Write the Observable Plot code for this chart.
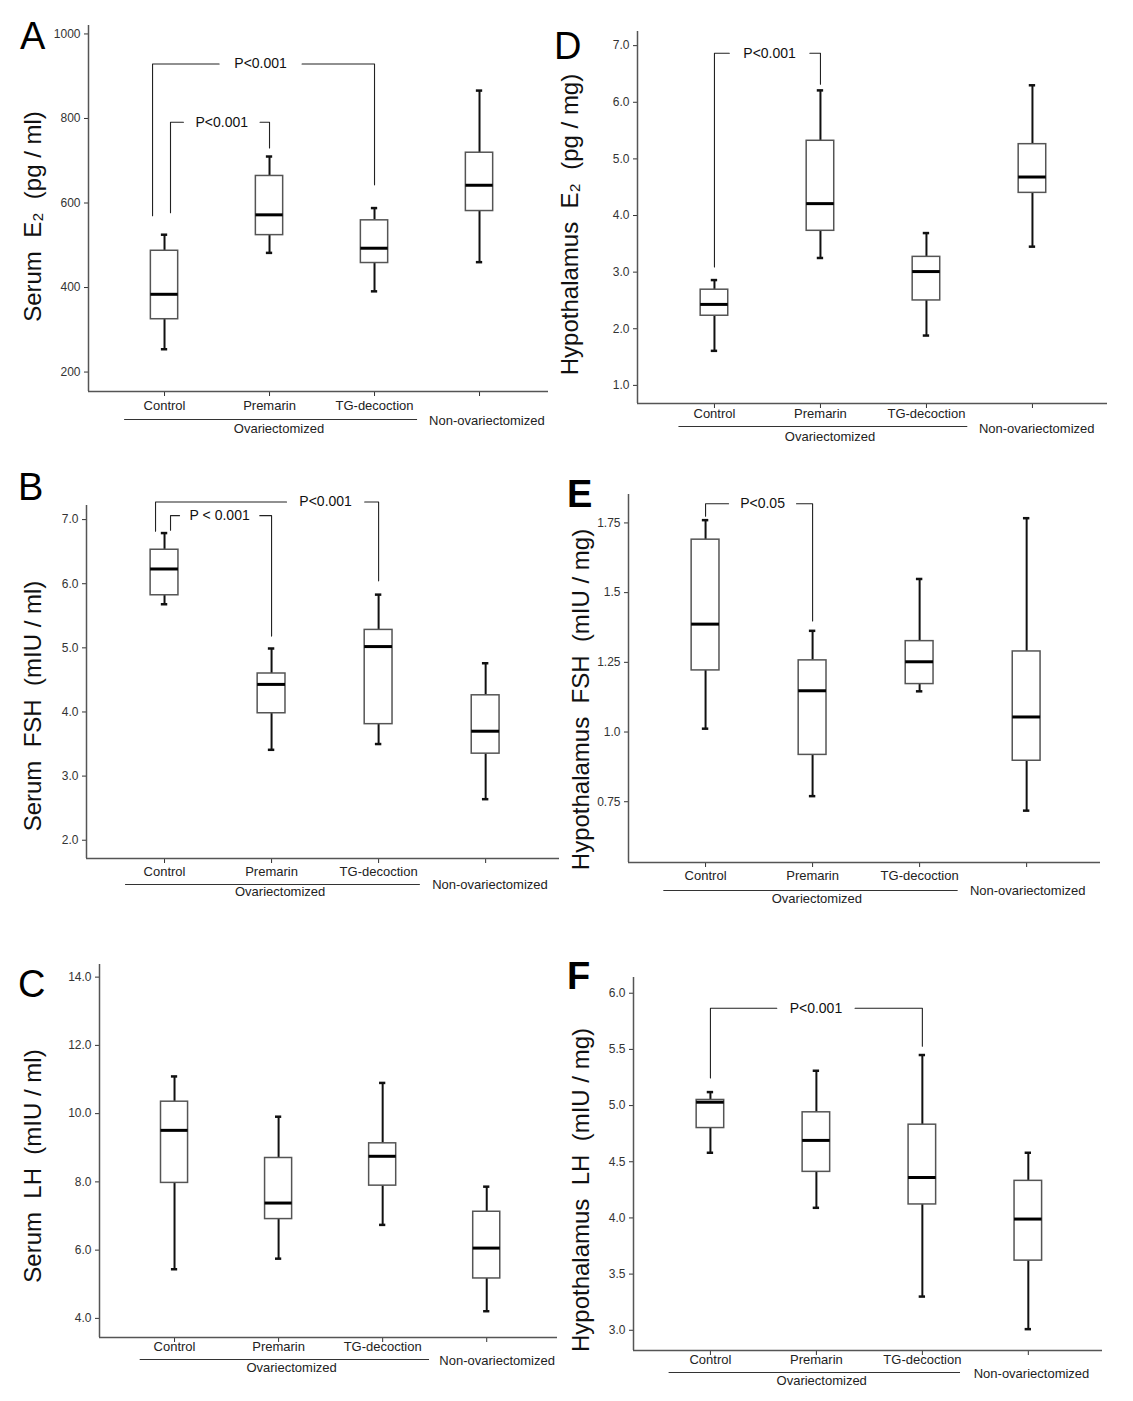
<!DOCTYPE html>
<html><head><meta charset="utf-8">
<script src="https://cdn.jsdelivr.net/npm/d3@7"></script>
<script src="https://cdn.jsdelivr.net/npm/@observablehq/plot@0.6"></script>
<style>
body{margin:0;background:#fff;}
#fig{position:relative;width:1133px;height:1401px;background:#fff;overflow:hidden;font-family:"Liberation Sans",Arial,sans-serif;}
.panel{position:absolute;}
.letter{position:absolute;font-size:38px;line-height:38px;color:#000;font-family:"Liberation Sans",Arial,sans-serif;}
</style></head><body><div id="fig"></div>
<script>
// ---------- DATA ----------
const groups = ["Control", "Premarin", "TG-decoction", "Non-ovariectomized"];
const ovxLabel = "Ovariectomized";

// five-number summaries per group: [min, q1, median, q3, max]
const serumE2 = [[254, 325, 384, 487, 525], [482, 524, 572, 664, 710], [391, 458, 493, 559, 588], [460, 581, 642, 719, 866]];
const serumFSH = [[5.68, 5.82, 6.23, 6.53, 6.79], [3.41, 3.98, 4.43, 4.60, 4.99], [3.50, 3.81, 5.02, 5.28, 5.83], [2.64, 3.35, 3.70, 4.26, 4.76]];
const serumLH = [[5.44, 7.97, 9.51, 10.35, 11.09], [5.75, 6.91, 7.38, 8.70, 9.91], [6.74, 7.89, 8.75, 9.13, 10.90], [4.21, 5.17, 6.06, 7.125, 7.86]];
const hypoE2 = [[1.61, 2.23, 2.43, 2.69, 2.86], [3.25, 3.73, 4.21, 5.32, 6.21], [1.88, 2.50, 3.01, 3.27, 3.69], [3.45, 4.40, 4.68, 5.26, 6.30]];
const hypoFSH = [[1.012, 1.221, 1.387, 1.69, 1.76], [0.77, 0.918, 1.148, 1.257, 1.363], [1.146, 1.172, 1.252, 1.326, 1.549], [0.718, 0.897, 1.054, 1.289, 1.767]];
const hypoLH = [[4.58, 4.80, 5.03, 5.05, 5.12], [4.09, 4.41, 4.69, 4.94, 5.31], [3.30, 4.12, 4.36, 4.83, 5.45], [3.01, 3.62, 3.99, 4.33, 4.58]];

// y tick values and labels
const serumE2Ticks = [200, 400, 600, 800, 1000];
const serumFSHTicks = [2, 3, 4, 5, 6, 7];
const serumLHTicks = [4, 6, 8, 10, 12, 14];
const hypoE2Ticks = [1, 2, 3, 4, 5, 6, 7];
const hypoFSHTicks = [0.75, 1.0, 1.25, 1.5, 1.75];
const hypoFSHTickLabels = ["0.75", "1.0", "1.25", "1.5", "1.75"];
const hypoLHTicks = [3.0, 3.5, 4.0, 4.5, 5.0, 5.5, 6.0];

// significance brackets (x in group index units, y in data units)
const serumE2Brackets = [
  {xL: 0.886, xR: 3, yTop: 929, yL: 570, yR: 643, g1: 1.52, g2: 2.31, label: "P<0.001"},
  {xL: 1.057, xR: 2, yTop: 791, yL: 577, yR: 730, g1: 1.18, g2: 1.91, label: "P<0.001"}
];
const serumFSHBrackets = [
  {xL: 0.916, xR: 3, yTop: 7.275, yL: 6.82, yR: 6.045, g1: 2.14, g2: 2.87, label: "P<0.001"},
  {xL: 1.056, xR: 2, yTop: 7.062, yL: 6.834, yR: 5.183, g1: 1.14, g2: 1.89, label: "P < 0.001"}
];
const serumLHBrackets = [];
const hypoE2Brackets = [
  {xL: 1, xR: 2, yTop: 6.865, yL: 3.09, yR: 6.32, g1: 1.14, g2: 1.90, label: "P<0.001"}
];
const hypoFSHBrackets = [
  {xL: 1, xR: 2, yTop: 1.819, yL: 1.774, yR: 1.398, g1: 1.215, g2: 1.85, label: "P<0.05"}
];
const hypoLHBrackets = [
  {xL: 1, xR: 3, yTop: 5.866, yL: 5.246, yR: 5.528, g1: 1.626, g2: 2.365, label: "P<0.001"}
];

// ---------- LAYOUT ----------
const S = "\u00a0\u00a0";
const panels = [
  {letter: "A", bold: false, lx: 20, ly: 17, title: "Serum" + S + "E\u2082" + S + "(pg / ml)", stats: serumE2, ticks: serumE2Ticks, fmt: d => String(d), brackets: serumE2Brackets,
   left: 0, top: 0, width: 560, height: 450, mL: 88, mR: 12, mT: 25, mB: 59, xd: [0.276, 4.657], yd: [154, 1020],
   tdx: -55, tdy: 8, dCat: 18, dLine: 28, dOvx: 41, dNon: 33, line: [0.62, 3.41], ovxX: 2.09, nonX: 4.07},
  {letter: "B", bold: false, lx: 18, ly: 468, title: "Serum" + S + "FSH" + S + "(mIU / ml)", stats: serumFSH, ticks: serumFSHTicks, fmt: d => d.toFixed(1), brackets: serumFSHBrackets,
   left: 0, top: 455, width: 560, height: 470, mL: 86, mR: 1, mT: 50, mB: 67, xd: [0.271, 4.69], yd: [1.715, 7.22],
   tdx: -53, tdy: 24, dCat: 17, dLine: 26, dOvx: 37, dNon: 30, line: [0.636, 3.39], ovxX: 2.08, nonX: 4.04},
  {letter: "C", bold: false, lx: 18, ly: 965, title: "Serum" + S + "LH" + S + "(mIU / ml)", stats: serumLH, ticks: serumLHTicks, fmt: d => d.toFixed(1), brackets: serumLHBrackets,
   left: 0, top: 940, width: 560, height: 461, mL: 99, mR: 3, mT: 24, mB: 64, xd: [0.279, 4.68], yd: [3.44, 14.37],
   tdx: -66, tdy: 15, dCat: 13, dLine: 22, dOvx: 34, dNon: 27, line: [0.67, 3.45], ovxX: 2.125, nonX: 4.10},
  {letter: "D", bold: false, lx: 554, ly: 27, title: "Hypothalamus" + S + "E\u2082" + S + "(pg / mg)", stats: hypoE2, ticks: hypoE2Ticks, fmt: d => d.toFixed(1), brackets: hypoE2Brackets,
   left: 556, top: 0, width: 577, height: 450, mL: 81, mR: 26, mT: 31, mB: 47, xd: [0.274, 4.708], yd: [0.68, 7.25],
   tdx: -67, tdy: 7, dCat: 14, dLine: 23, dOvx: 37, dNon: 29, line: [0.665, 3.39], ovxX: 2.09, nonX: 4.04},
  {letter: "E", bold: true, lx: 567, ly: 475, title: "Hypothalamus" + S + "FSH" + S + "(mIU / mg)", stats: hypoFSH, ticks: hypoFSHTicks, fmt: d => hypoFSHTickLabels[hypoFSHTicks.indexOf(d)], brackets: hypoFSHBrackets,
   left: 556, top: 455, width: 577, height: 470, mL: 72, mR: 33, mT: 39, mB: 63, xd: [0.28, 4.69], yd: [0.532, 1.852],
   tdx: -47, tdy: 21, dCat: 17, dLine: 28, dOvx: 40, dNon: 32, line: [0.61, 3.36], ovxX: 2.04, nonX: 4.01},
  {letter: "F", bold: true, lx: 567, ly: 957, title: "Hypothalamus" + S + "LH" + S + "(mIU / mg)", stats: hypoLH, ticks: hypoLHTicks, fmt: d => d.toFixed(1), brackets: hypoLHBrackets,
   left: 556, top: 940, width: 577, height: 461, mL: 77, mR: 31, mT: 37, mB: 51, xd: [0.274, 4.70], yd: [2.82, 6.14],
   tdx: -52, tdy: 26, dCat: 13, dLine: 22, dOvx: 34, dNon: 27, line: [0.61, 3.36], ovxX: 2.05, nonX: 4.03}
];

const fig = document.getElementById("fig");
const HW = 0.13, CW = 0.03;

function makePanel(c) {
  const rows = c.stats.map((s, i) => ({pos: i + 1, min: s[0], q1: s[1], med: s[2], q3: s[3], max: s[4]}));
  const pts = [];
  c.brackets.forEach((b, k) => {
    pts.push({x: b.xL, y: b.yL, z: k + "a"}, {x: b.xL, y: b.yTop, z: k + "a"}, {x: b.g1, y: b.yTop, z: k + "a"});
    pts.push({x: b.g2, y: b.yTop, z: k + "b"}, {x: b.xR, y: b.yTop, z: k + "b"}, {x: b.xR, y: b.yR, z: k + "b"});
  });
  const plot = Plot.plot({
    width: c.width, height: c.height,
    marginLeft: c.mL, marginRight: c.mR, marginTop: c.mT, marginBottom: c.mB,
    style: {background: "transparent", overflow: "visible", fontFamily: "Liberation Sans, Arial, sans-serif", fontSize: "12px", color: "#333"},
    x: {domain: c.xd, ticks: [1, 2, 3, 4], tickFormat: () => "", tickSize: 5, label: null},
    y: {domain: c.yd, ticks: c.ticks, tickFormat: c.fmt, tickSize: 4, tickPadding: 4, label: null},
    marks: [
      Plot.ruleX([c.xd[0]], {stroke: "#555", strokeWidth: 1.5}),
      Plot.ruleY([c.yd[0]], {stroke: "#555", strokeWidth: 1.5}),
      Plot.ruleX(rows, {x: "pos", y1: "q3", y2: "max", stroke: "#111", strokeWidth: 2}),
      Plot.ruleX(rows, {x: "pos", y1: "min", y2: "q1", stroke: "#111", strokeWidth: 2}),
      Plot.ruleY(rows, {y: "max", x1: d => d.pos - CW, x2: d => d.pos + CW, stroke: "#111", strokeWidth: 2.5}),
      Plot.ruleY(rows, {y: "min", x1: d => d.pos - CW, x2: d => d.pos + CW, stroke: "#111", strokeWidth: 2.5}),
      Plot.rect(rows, {x1: d => d.pos - HW, x2: d => d.pos + HW, y1: "q1", y2: "q3", fill: "white", stroke: "#555", strokeWidth: 1.5}),
      Plot.ruleY(rows, {y: "med", x1: d => d.pos - HW, x2: d => d.pos + HW, stroke: "#000", strokeWidth: 3}),
      Plot.line(pts, {x: "x", y: "y", z: "z", stroke: "#222", strokeWidth: 1.1}),
      Plot.text(c.brackets, {x: b => (b.g1 + b.g2) / 2, y: "yTop", text: "label", fontSize: 14, fill: "#111"}),
      Plot.text(groups.slice(0, 3), {x: (d, i) => i + 1, frameAnchor: "bottom", dy: c.dCat, text: d => d, fontSize: 13, fill: "#222", textAnchor: "middle"}),
      Plot.text([groups[3]], {x: () => c.nonX, frameAnchor: "bottom", dy: c.dNon, text: d => d, fontSize: 13, fill: "#222", textAnchor: "middle"}),
      Plot.text([ovxLabel], {x: () => c.ovxX, frameAnchor: "bottom", dy: c.dOvx, text: d => d, fontSize: 13, fill: "#222", textAnchor: "middle"}),
      Plot.ruleY([c.yd[0]], {x1: () => c.line[0], x2: () => c.line[1], dy: c.dLine, stroke: "#333", strokeWidth: 1.2}),
      Plot.text([c.title], {frameAnchor: "left", dx: c.tdx, dy: c.tdy, rotate: -90, textAnchor: "middle", text: d => d, fontSize: 24, fill: "#111"})
    ]
  });
  const div = document.createElement("div");
  div.className = "panel";
  div.style.left = c.left + "px";
  div.style.top = c.top + "px";
  div.style.width = c.width + "px";
  div.style.height = c.height + "px";
  div.appendChild(plot);
  fig.appendChild(div);
  const L = document.createElement("div");
  L.className = "letter";
  L.textContent = c.letter;
  L.style.left = c.lx + "px";
  L.style.top = c.ly + "px";
  if (c.bold) L.style.fontWeight = "bold";
  fig.appendChild(L);
}
panels.forEach(makePanel);
</script>
</body></html>
